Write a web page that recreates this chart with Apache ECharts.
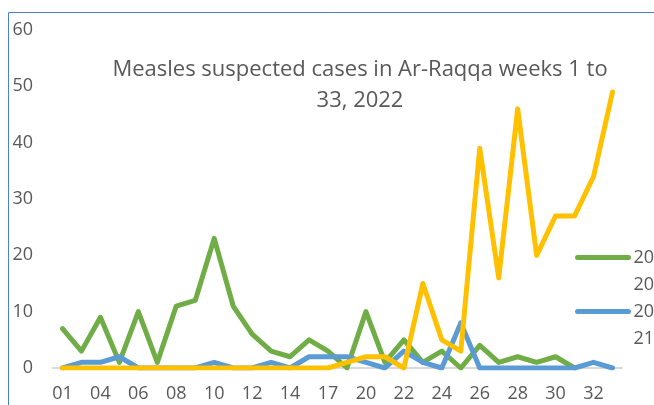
<!DOCTYPE html>
<html>
<head>
<meta charset="utf-8">
<script src="https://cdn.jsdelivr.net/npm/echarts@6/dist/echarts.min.js"></script>
<style>
html,body{margin:0;padding:0;background:#fff;}
#chart{width:654px;height:405px;}
</style>
</head>
<body>
<div id="chart"></div>
<script>
const weeks = ['01','03','04','05','06','07','08','09','10','11','12','13','14','16','17','19','20','21','22','23','24','25','26','27','28','29','30','31','32','33'];
const yTicks = [0, 10, 20, 30, 40, 50, 60];
const cases2020 = [7,3,9,1,10,1,11,12,23,11,6,3,2,5,3,0,10,1,5,1,3,0,4,1,2,1,2,0,'-','-'];
const cases2021 = [0,1,1,2,0,0,0,0,1,0,0,1,0,2,2,2,1,0,3,1,0,8,0,0,0,0,0,0,1,0];
const cases2022 = [0,0,0,0,0,0,0,0,0,0,0,0,0,0,0,1,2,2,0,15,5,3,39,16,46,20,27,27,34,49];
const titleText = 'Measles suspected cases in Ar-Raqqa weeks 1 to\n33, 2022';

const FONT = 'Open Sans';
const chart = echarts.init(document.getElementById('chart'), null, {renderer: 'canvas'});
function mkSeries(name, data, color) {
  return {
    name: name, type: 'line', data: data, symbol: 'none', showSymbol: false,
    lineStyle: {color: color, width: 5, cap: 'round', join: 'round'},
    itemStyle: {color: color},
    emphasis: {disabled: true},
    animation: false
  };
}
chart.setOption({
  animation: false,
  title: {
    text: titleText,
    left: 360, top: 54, padding: 0, textAlign: 'center',
    textStyle: {fontFamily: FONT, fontSize: 22, fontWeight: 'normal', color: '#595959', lineHeight: 31}
  },
  graphic: [{
    type: 'rect', silent: true,
    shape: {x: 8.5, y: 12.5, width: 700, height: 500},
    style: {fill: 'none', stroke: '#4a7fd4', lineWidth: 1}
  }],
  legend: {
    data: ['2020', '2021'],
    orient: 'vertical',
    left: 570, top: 212,
    padding: 5,
    itemWidth: 51, itemHeight: 5, itemGap: -27,
    formatter: function (n) { return '\n' + n.slice(0, 2) + '\n' + n.slice(2); },
    lineStyle: {width: 5, cap: 'round'},
    textStyle: {fontFamily: FONT, fontSize: 18, color: '#595959', lineHeight: 27},
    selectedMode: false
  },
  grid: {left: 53, right: 32, top: 30, bottom: 37},
  xAxis: {
    type: 'category', data: weeks, boundaryGap: true,
    axisLine: {lineStyle: {color: '#d9d9d9', width: 2}},
    axisTick: {show: false},
    axisLabel: {interval: 1, fontFamily: FONT, fontSize: 18, color: '#595959', margin: 17}
  },
  yAxis: {
    type: 'value', min: yTicks[0], max: yTicks[yTicks.length - 1], interval: 10,
    axisLine: {show: false}, axisTick: {show: false}, splitLine: {show: false},
    axisLabel: {fontFamily: FONT, fontSize: 18, color: '#595959', margin: 20}
  },
  series: [
    mkSeries('2020', cases2020, '#70AD47'),
    mkSeries('2021', cases2021, '#5B9BD5'),
    mkSeries('2022', cases2022, '#FFC000')
  ]
});
</script>
</body>
</html>
